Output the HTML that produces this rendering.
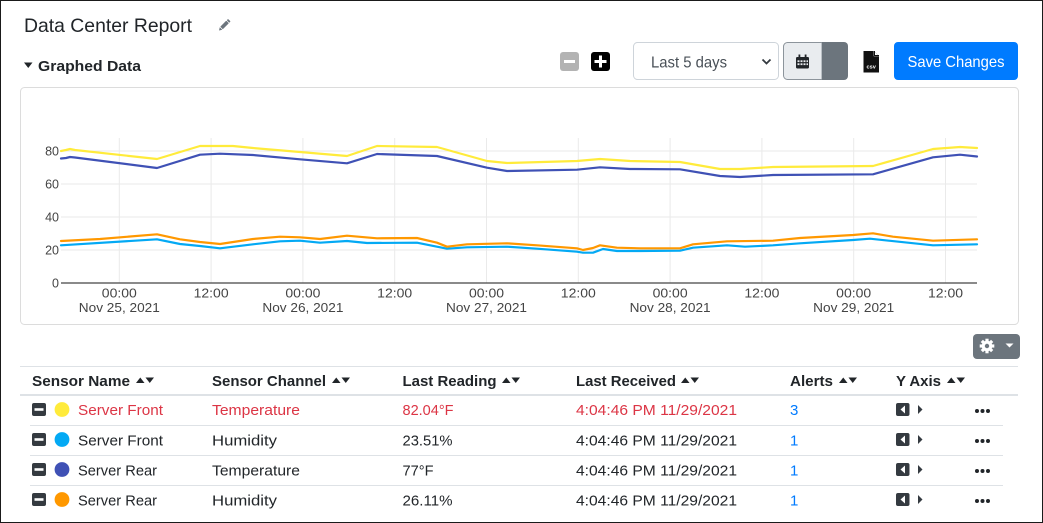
<!DOCTYPE html>
<html><head><meta charset="utf-8">
<style>
html,body{margin:0;padding:0;background:#fff;}
body{width:1043px;height:523px;overflow:hidden;}
svg{display:block;font-family:"Liberation Sans",Arial,sans-serif;}
</style></head>
<body>
<svg width="1043" height="523" viewBox="0 0 1043 523" xmlns="http://www.w3.org/2000/svg">
<rect x="0.5" y="0.5" width="1042" height="522" fill="#fff" stroke="#1a1a1a" stroke-width="1"/>

<!-- Title -->
<text x="24" y="32" font-size="19.5" fill="#212529" textLength="168" lengthAdjust="spacingAndGlyphs">Data Center Report</text>
<!-- pencil -->
<g transform="translate(224,25.5) rotate(45)" fill="#6c757d">
  <rect x="-1.8" y="-5" width="3.6" height="8.5" rx="0.5"/>
  <polygon points="-1.8,4.2 1.8,4.2 0,7"/>
  <rect x="-1.8" y="-7.5" width="3.6" height="1.8" rx="0.6"/>
</g>

<!-- Graphed Data -->
<polygon points="24,62.5 32.5,62.5 28.25,68" fill="#212529"/>
<text x="38" y="71" font-size="15" font-weight="bold" fill="#212529" textLength="103" lengthAdjust="spacingAndGlyphs">Graphed Data</text>

<!-- minus / plus -->
<rect x="560" y="52" width="19" height="19" rx="3" fill="#b3b3b3"/>
<rect x="564" y="60" width="11" height="3" fill="#fff"/>
<rect x="591" y="52" width="19" height="19" rx="3" fill="#000"/>
<rect x="594.5" y="60" width="12" height="3" fill="#fff"/>
<rect x="599" y="55.5" width="3" height="12" fill="#fff"/>

<!-- select -->
<rect x="633.5" y="42.5" width="145" height="37" rx="4" fill="#fff" stroke="#ced4da"/>
<text x="651" y="67.5" font-size="16" fill="#495057" textLength="76" lengthAdjust="spacingAndGlyphs">Last 5 days</text>
<polyline points="762.5,59.5 766.5,63.5 770.5,59.5" fill="none" stroke="#343a40" stroke-width="1.8"/>

<!-- calendar button -->
<path d="M787.5,42.5 H822 V79.5 H787.5 A4,4 0 0 1 783.5,75.5 V46.5 A4,4 0 0 1 787.5,42.5 Z" fill="#e9ecef" stroke="#8c949b"/>
<path d="M822,42 H844 A4,4 0 0 1 848,46 V76 A4,4 0 0 1 844,80 H822 Z" fill="#6c757d"/>
<g fill="#212529">
  <rect x="796" y="57" width="13" height="11.5" rx="1.2"/>
  <rect x="798.5" y="54.5" width="1.8" height="3.5"/>
  <rect x="804.7" y="54.5" width="1.8" height="3.5"/>
</g>
<g fill="#e9ecef">
  <rect x="797.5" y="60.3" width="2" height="1.8"/><rect x="800.5" y="60.3" width="2" height="1.8"/><rect x="803.5" y="60.3" width="2" height="1.8"/><rect x="806.5" y="60.3" width="1.5" height="1.8"/>
  <rect x="797.5" y="63.3" width="2" height="1.8"/><rect x="800.5" y="63.3" width="2" height="1.8"/><rect x="803.5" y="63.3" width="2" height="1.8"/><rect x="806.5" y="63.3" width="1.5" height="1.8"/>
</g>

<!-- csv icon -->
<path d="M863.5,51 H874 L879,56 V72.5 H863.5 Z" fill="#111"/>
<path d="M874,51 V56 H879" fill="#fff" stroke="#fff" stroke-width="0.6"/>
<path d="M874.5,51 L874.5,55.5 L879,55.5" fill="none" stroke="#111" stroke-width="1"/>
<text x="871.2" y="68.3" font-size="5.6" font-weight="bold" fill="#fff" text-anchor="middle">csv</text>

<!-- Save Changes -->
<rect x="894" y="42" width="124" height="38" rx="4" fill="#007bff"/>
<text x="956" y="67" font-size="16" fill="#fff" text-anchor="middle" textLength="97" lengthAdjust="spacingAndGlyphs">Save Changes</text>

<!-- chart card -->
<rect x="20.5" y="87.5" width="998" height="237" rx="4" fill="#fff" stroke="#dcdcdc"/>

<!-- gridlines -->
<g stroke="#eaeaea" stroke-width="1">
  <line x1="61" y1="151" x2="977" y2="151"/>
  <line x1="61" y1="184" x2="977" y2="184"/>
  <line x1="61" y1="217" x2="977" y2="217"/>
  <line x1="61" y1="250" x2="977" y2="250"/>
  <line x1="119.3" y1="138" x2="119.3" y2="283"/>
  <line x1="211.1" y1="138" x2="211.1" y2="283"/>
  <line x1="302.9" y1="138" x2="302.9" y2="283"/>
  <line x1="394.7" y1="138" x2="394.7" y2="283"/>
  <line x1="486.5" y1="138" x2="486.5" y2="283"/>
  <line x1="578.3" y1="138" x2="578.3" y2="283"/>
  <line x1="670.1" y1="138" x2="670.1" y2="283"/>
  <line x1="761.9" y1="138" x2="761.9" y2="283"/>
  <line x1="853.7" y1="138" x2="853.7" y2="283"/>
  <line x1="945.5" y1="138" x2="945.5" y2="283"/>
</g>
<line x1="61" y1="283" x2="977" y2="283" stroke="#444" stroke-width="1.2"/>

<!-- y labels -->
<g font-size="12.5" fill="#444" text-anchor="end">
  <text x="59" y="155.5">80</text>
  <text x="59" y="188.5">60</text>
  <text x="59" y="221.5">40</text>
  <text x="59" y="254.5">20</text>
  <text x="59" y="287.5">0</text>
</g>
<!-- x labels -->
<g font-size="12.5" fill="#444" text-anchor="middle">
  <text x="119.3" y="297.3" textLength="35" lengthAdjust="spacingAndGlyphs">00:00</text>
  <text x="211.1" y="297.3" textLength="35" lengthAdjust="spacingAndGlyphs">12:00</text>
  <text x="302.9" y="297.3" textLength="35" lengthAdjust="spacingAndGlyphs">00:00</text>
  <text x="394.7" y="297.3" textLength="35" lengthAdjust="spacingAndGlyphs">12:00</text>
  <text x="486.5" y="297.3" textLength="35" lengthAdjust="spacingAndGlyphs">00:00</text>
  <text x="578.3" y="297.3" textLength="35" lengthAdjust="spacingAndGlyphs">12:00</text>
  <text x="670.1" y="297.3" textLength="35" lengthAdjust="spacingAndGlyphs">00:00</text>
  <text x="761.9" y="297.3" textLength="35" lengthAdjust="spacingAndGlyphs">12:00</text>
  <text x="853.7" y="297.3" textLength="35" lengthAdjust="spacingAndGlyphs">00:00</text>
  <text x="945.5" y="297.3" textLength="35" lengthAdjust="spacingAndGlyphs">12:00</text>
  <text x="119.3" y="312" textLength="81" lengthAdjust="spacingAndGlyphs">Nov 25, 2021</text>
  <text x="302.9" y="312" textLength="81" lengthAdjust="spacingAndGlyphs">Nov 26, 2021</text>
  <text x="486.5" y="312" textLength="81" lengthAdjust="spacingAndGlyphs">Nov 27, 2021</text>
  <text x="670.1" y="312" textLength="81" lengthAdjust="spacingAndGlyphs">Nov 28, 2021</text>
  <text x="853.7" y="312" textLength="81" lengthAdjust="spacingAndGlyphs">Nov 29, 2021</text>
</g>

<!-- series -->
<g fill="none" stroke-width="2.2" stroke-linejoin="round" stroke-linecap="round">
  <polyline stroke="#ffeb3b" points="61,151 66,150 70,149 75,150 157,159 200,146 233,146 253,148 300,152 347,156 377,146 437,147 487,161 507,163 577,161 600,159 630,161 680,162 720,169 740,169 773,167 873,166 933,149 960,147 977,148"/>
  <polyline stroke="#03a9f4" points="61,245.3 157,239.3 180,244 200,246 220,248.3 253,244.3 280,241.3 300,240.7 320,242.7 347,241 367,243 417,242.7 437,246.7 447,248.7 467,247.3 507,246.7 537,248.7 577,251.7 583,252.7 593,252.7 603,249 617,251 640,251 680,250.7 693,247.7 727,245.3 745,246.7 773,245.3 800,243.3 853,240 870,238.7 933,245.3 977,244.3"/>
  <polyline stroke="#3f51b5" points="61,158.5 66,158 70,157 75,157.5 157,168 200,154.7 220,153.7 253,155 300,159.3 347,163.3 377,154 437,156 487,167.7 507,171 577,169.7 600,167.3 630,169 680,169.3 720,176 740,177 773,175 873,174.3 933,157.3 960,154.7 977,156.5"/>
  <polyline stroke="#ff9800" points="61,241 100,239 157,234.3 180,239.3 200,242 220,244 253,239 280,236.7 300,237.3 320,239 347,235.7 377,238.3 417,238 437,242.7 447,246.7 467,244.3 507,243.3 537,245.3 577,248.3 583,250 593,248 600,245.3 617,247.7 640,248.3 680,248.3 693,244.3 727,241.3 773,240.7 800,238 853,235 873,233.3 893,236.7 933,240.7 977,239.3"/>
</g>

<!-- gear button -->
<rect x="973" y="334" width="47" height="25" rx="4" fill="#6c757d"/>
<g transform="translate(987,346)" fill="#fff">
  <circle r="5.3"/>
  <rect x="-1.6" y="-7.3" width="3.2" height="14.6"/>
  <rect x="-1.6" y="-7.3" width="3.2" height="14.6" transform="rotate(45)"/>
  <rect x="-1.6" y="-7.3" width="3.2" height="14.6" transform="rotate(90)"/>
  <rect x="-1.6" y="-7.3" width="3.2" height="14.6" transform="rotate(135)"/>
  <circle r="2.2" fill="#6c757d"/>
</g>
<polygon points="1005.5,343.5 1013.5,343.5 1009.5,347.5" fill="#fff"/>

<!-- table lines -->
<line x1="20" y1="366.5" x2="1018" y2="366.5" stroke="#dee2e6"/>
<rect x="20" y="394" width="998" height="2" fill="#dee2e6"/>
<line x1="30" y1="425.5" x2="1003" y2="425.5" stroke="#dee2e6"/>
<line x1="30" y1="455.5" x2="1003" y2="455.5" stroke="#dee2e6"/>
<line x1="30" y1="485.5" x2="1003" y2="485.5" stroke="#dee2e6"/>

<!-- header -->
<g font-size="15" font-weight="bold" fill="#212529">
  <text x="32" y="386" textLength="98" lengthAdjust="spacingAndGlyphs">Sensor Name</text>
  <text x="212" y="386" textLength="114" lengthAdjust="spacingAndGlyphs">Sensor Channel</text>
  <text x="402.5" y="386" textLength="94" lengthAdjust="spacingAndGlyphs">Last Reading</text>
  <text x="576" y="386" textLength="100" lengthAdjust="spacingAndGlyphs">Last Received</text>
  <text x="790" y="386" textLength="43" lengthAdjust="spacingAndGlyphs">Alerts</text>
  <text x="896" y="386" textLength="45" lengthAdjust="spacingAndGlyphs">Y Axis</text>
</g>
<g fill="#212529">
  <polygon points="136,383 144.5,383 140.25,377.5"/><polygon points="145.5,377.5 154,377.5 149.75,383"/>
  <polygon points="332,383 340.5,383 336.25,377.5"/><polygon points="341.5,377.5 350,377.5 345.75,383"/>
  <polygon points="502,383 510.5,383 506.25,377.5"/><polygon points="511.5,377.5 520,377.5 515.75,383"/>
  <polygon points="681,383 689.5,383 685.25,377.5"/><polygon points="690.5,377.5 699,377.5 694.75,383"/>
  <polygon points="839,383 847.5,383 843.25,377.5"/><polygon points="848.5,377.5 857,377.5 852.75,383"/>
  <polygon points="947,383 955.5,383 951.25,377.5"/><polygon points="956.5,377.5 965,377.5 960.75,383"/>
</g>

<!-- rows -->
<g>
  <!-- row icons -->
  <g fill="#343a40">
    <rect x="32" y="403" width="14" height="13" rx="2"/>
    <rect x="32" y="433" width="14" height="13" rx="2"/>
    <rect x="32" y="463" width="14" height="13" rx="2"/>
    <rect x="32" y="493" width="14" height="13" rx="2"/>
  </g>
  <g fill="#fff">
    <rect x="34.5" y="408.2" width="9" height="2.6"/>
    <rect x="34.5" y="438.2" width="9" height="2.6"/>
    <rect x="34.5" y="468.2" width="9" height="2.6"/>
    <rect x="34.5" y="498.2" width="9" height="2.6"/>
  </g>
  <circle cx="62" cy="409.5" r="7.4" fill="#ffeb3b"/>
  <circle cx="62" cy="439.5" r="7.4" fill="#03a9f4"/>
  <circle cx="62" cy="469.5" r="7.4" fill="#3f51b5"/>
  <circle cx="62" cy="499.5" r="7.4" fill="#ff9800"/>

  <g font-size="15" fill="#212529">
    <text x="78" y="415" fill="#dc3545" textLength="85" lengthAdjust="spacingAndGlyphs">Server Front</text>
    <text x="212" y="415" fill="#dc3545" textLength="88" lengthAdjust="spacingAndGlyphs">Temperature</text>
    <text x="402.5" y="415" fill="#dc3545" textLength="51" lengthAdjust="spacingAndGlyphs">82.04°F</text>
    <text x="576" y="415" fill="#dc3545" textLength="161" lengthAdjust="spacingAndGlyphs">4:04:46 PM 11/29/2021</text>
    <text x="790" y="415" fill="#007bff">3</text>

    <text x="78" y="445.5" textLength="85" lengthAdjust="spacingAndGlyphs">Server Front</text>
    <text x="212" y="445.5" textLength="65" lengthAdjust="spacingAndGlyphs">Humidity</text>
    <text x="402.5" y="445.5" textLength="50" lengthAdjust="spacingAndGlyphs">23.51%</text>
    <text x="576" y="445.5" textLength="161" lengthAdjust="spacingAndGlyphs">4:04:46 PM 11/29/2021</text>
    <text x="790" y="445.5" fill="#007bff">1</text>

    <text x="78" y="475.5" textLength="79" lengthAdjust="spacingAndGlyphs">Server Rear</text>
    <text x="212" y="475.5" textLength="88" lengthAdjust="spacingAndGlyphs">Temperature</text>
    <text x="402.5" y="475.5" textLength="31" lengthAdjust="spacingAndGlyphs">77°F</text>
    <text x="576" y="475.5" textLength="161" lengthAdjust="spacingAndGlyphs">4:04:46 PM 11/29/2021</text>
    <text x="790" y="475.5" fill="#007bff">1</text>

    <text x="78" y="505.5" textLength="79" lengthAdjust="spacingAndGlyphs">Server Rear</text>
    <text x="212" y="505.5" textLength="65" lengthAdjust="spacingAndGlyphs">Humidity</text>
    <text x="402.5" y="505.5" textLength="50" lengthAdjust="spacingAndGlyphs">26.11%</text>
    <text x="576" y="505.5" textLength="161" lengthAdjust="spacingAndGlyphs">4:04:46 PM 11/29/2021</text>
    <text x="790" y="505.5" fill="#007bff">1</text>
  </g>

  <!-- y axis icons -->
  <g>
    <rect x="896" y="403" width="13.5" height="13" rx="2" fill="#343a40"/>
    <polygon points="905,405.5 905,413.5 900.5,409.5" fill="#fff"/>
    <polygon points="918,405 918,414 922.5,409.5" fill="#343a40"/>
    <rect x="896" y="433" width="13.5" height="13" rx="2" fill="#343a40"/>
    <polygon points="905,435.5 905,443.5 900.5,439.5" fill="#fff"/>
    <polygon points="918,435 918,444 922.5,439.5" fill="#343a40"/>
    <rect x="896" y="463" width="13.5" height="13" rx="2" fill="#343a40"/>
    <polygon points="905,465.5 905,473.5 900.5,469.5" fill="#fff"/>
    <polygon points="918,465 918,474 922.5,469.5" fill="#343a40"/>
    <rect x="896" y="493" width="13.5" height="13" rx="2" fill="#343a40"/>
    <polygon points="905,495.5 905,503.5 900.5,499.5" fill="#fff"/>
    <polygon points="918,495 918,504 922.5,499.5" fill="#343a40"/>
  </g>
  <!-- ellipsis -->
  <g fill="#212529">
    <circle cx="977" cy="411" r="2"/><circle cx="982.5" cy="411" r="2"/><circle cx="988" cy="411" r="2"/>
    <circle cx="977" cy="441" r="2"/><circle cx="982.5" cy="441" r="2"/><circle cx="988" cy="441" r="2"/>
    <circle cx="977" cy="471" r="2"/><circle cx="982.5" cy="471" r="2"/><circle cx="988" cy="471" r="2"/>
    <circle cx="977" cy="501" r="2"/><circle cx="982.5" cy="501" r="2"/><circle cx="988" cy="501" r="2"/>
  </g>
</g>
</svg>
</body></html>
